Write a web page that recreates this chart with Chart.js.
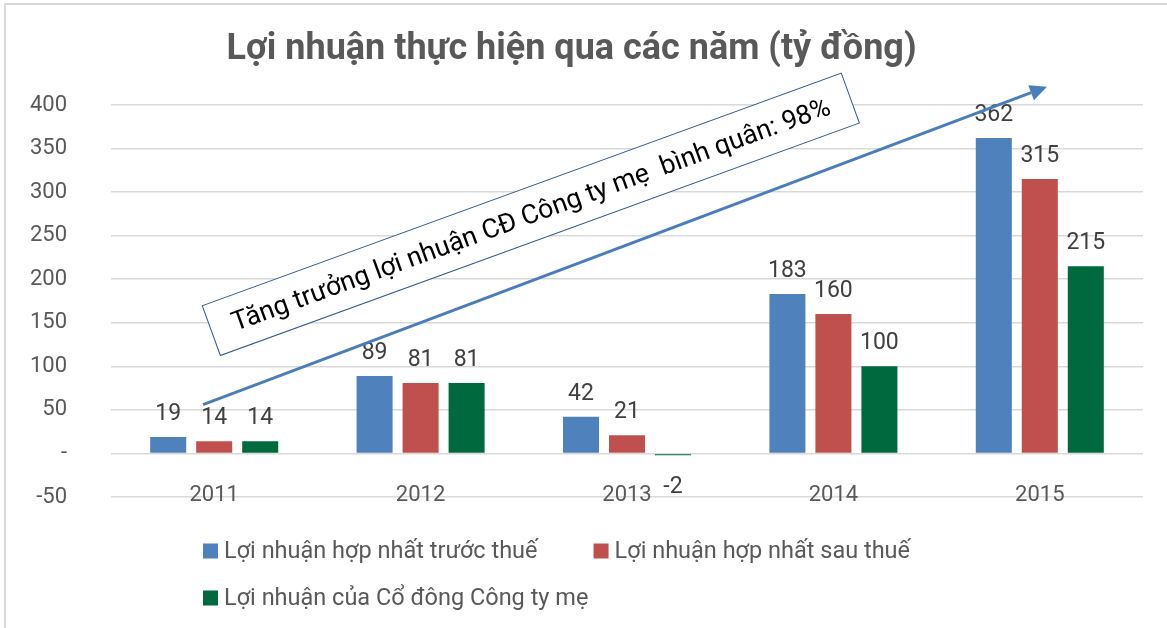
<!DOCTYPE html>
<html>
<head>
<meta charset="utf-8">
<script src="https://cdn.jsdelivr.net/npm/chart.js@4"></script>
<style>
  html, body { margin: 0; padding: 0; background: #ffffff; }
  #wrap { width: 1167px; height: 628px; position: relative; }
</style>
</head>
<body>
<div id="wrap"><canvas id="c" width="1167" height="628"></canvas></div>
<script>
// ---- Data ----
const categories = ['2011', '2012', '2013', '2014', '2015'];
const seriesNames = [
  'Lợi nhuận hợp nhất trước thuế',
  'Lợi nhuận hợp nhất sau thuế',
  'Lợi nhuận của Cổ đông Công ty mẹ'
];
const profitBeforeTax = [19, 89, 42, 183, 362];
const profitAfterTax = [14, 81, 21, 160, 315];
const parentShareholderProfit = [14, 81, -2, 100, 215];
const yMin = -50;
const yMax = 400;
const yStep = 50;
const chartTitle = 'Lợi nhuận thực hiện qua các năm (tỷ đồng)';
const growthNote = 'Tăng trưởng lợi nhuận CĐ Công ty mẹ  bình quân: 98%';

// annotation anchors in data units (category index, value)
const arrowFrom = { x: -0.054, y: 56 };
const arrowTo = { x: 4.035, y: 421 };
const noteCenter = { x: 1.534, y: 274.5 };

const colors = ['#4F81BD', '#C0504D', '#00693E'];
const FONT = 'Roboto, "Liberation Sans", sans-serif';

const frameBorder = {
  id: 'frameBorder',
  beforeDraw(chart) {
    const ctx = chart.ctx;
    ctx.save();
    ctx.fillStyle = '#ffffff';
    ctx.fillRect(0, 0, chart.width, chart.height);
    ctx.strokeStyle = '#d9d9d9';
    ctx.lineWidth = 2;
    ctx.beginPath();
    ctx.moveTo(5, chart.height);
    ctx.lineTo(5, 4);
    ctx.lineTo(chart.width, 4);
    ctx.stroke();
    ctx.restore();
  }
};

const dataLabels = {
  id: 'dataLabels',
  afterDatasetsDraw(chart) {
    const ctx = chart.ctx;
    ctx.save();
    ctx.font = '23px ' + FONT;
    ctx.fillStyle = '#404040';
    ctx.textAlign = 'center';
    ctx.textBaseline = 'alphabetic';
    chart.data.datasets.forEach((ds, di) => {
      const meta = chart.getDatasetMeta(di);
      meta.data.forEach((el, i) => {
        const v = ds.data[i];
        if (v >= 0) {
          ctx.fillText(String(v), el.x, el.y - 17);
        } else {
          ctx.fillText(String(v), el.x, el.y + 38);
        }
      });
    });
    ctx.restore();
  }
};

const customLegend = {
  id: 'customLegend',
  afterDraw(chart) {
    const ctx = chart.ctx;
    const area = chart.chartArea;
    ctx.save();
    ctx.font = '23.5px ' + FONT;
    ctx.textBaseline = 'middle';
    ctx.textAlign = 'left';
    const box = 15;
    const startX = area.left + 92;
    const rows = [area.bottom + 54, area.bottom + 101];
    const layout = [
      { row: 0, x: startX },
      { row: 0, x: null },
      { row: 1, x: startX }
    ];
    let prevEnd = 0;
    chart.data.datasets.forEach((ds, i) => {
      const L = layout[i];
      const x = L.x !== null ? L.x : prevEnd + 56;
      const y = rows[L.row];
      ctx.fillStyle = ds.backgroundColor;
      ctx.fillRect(x, y - box / 2, box, box);
      ctx.fillStyle = '#595959';
      ctx.fillText(ds.label, x + box + 6, y + 1);
      prevEnd = x + box + 6 + ctx.measureText(ds.label).width;
    });
    ctx.restore();
  }
};

const growthAnnotation = {
  id: 'growthAnnotation',
  afterDraw(chart) {
    const ctx = chart.ctx;
    const xs = chart.scales.x, ys = chart.scales.y;
    const x1 = xs.getPixelForValue(arrowFrom.x), y1 = ys.getPixelForValue(arrowFrom.y);
    const x2 = xs.getPixelForValue(arrowTo.x), y2 = ys.getPixelForValue(arrowTo.y);
    const ang = Math.atan2(y2 - y1, x2 - x1);
    ctx.save();
    ctx.strokeStyle = '#4A7EBB';
    ctx.fillStyle = '#4A7EBB';
    ctx.lineWidth = 3;
    const headLen = 17, headW = 8;
    const bx = x2 - headLen * Math.cos(ang), by = y2 - headLen * Math.sin(ang);
    ctx.beginPath();
    ctx.moveTo(x1, y1);
    ctx.lineTo(bx, by);
    ctx.stroke();
    ctx.beginPath();
    ctx.moveTo(x2, y2);
    ctx.lineTo(bx + headW * Math.sin(ang), by - headW * Math.cos(ang));
    ctx.lineTo(bx - headW * Math.sin(ang), by + headW * Math.cos(ang));
    ctx.closePath();
    ctx.fill();

    // rotated note box
    const cx = xs.getPixelForValue(noteCenter.x), cy = ys.getPixelForValue(noteCenter.y);
    const w = 680, h = 53, rot = -20 * Math.PI / 180;
    ctx.translate(cx, cy);
    ctx.rotate(rot);
    ctx.fillStyle = '#ffffff';
    ctx.fillRect(-w / 2, -h / 2, w, h);
    ctx.strokeStyle = '#385D8A';
    ctx.lineWidth = 1;
    ctx.strokeRect(-w / 2, -h / 2, w, h);
    ctx.font = '24px ' + FONT;
    const tw = ctx.measureText(growthNote).width;
    const size = Math.max(16, Math.min(30, 24 * 636 / tw));
    ctx.font = size.toFixed(1) + 'px ' + FONT;
    ctx.fillStyle = '#000000';
    ctx.textAlign = 'center';
    ctx.textBaseline = 'middle';
    ctx.fillText(growthNote, 0, 2);
    ctx.restore();
  }
};

new Chart(document.getElementById('c'), {
  type: 'bar',
  data: {
    labels: categories,
    datasets: [
      { label: seriesNames[0], data: profitBeforeTax, backgroundColor: colors[0] },
      { label: seriesNames[1], data: profitAfterTax, backgroundColor: colors[1] },
      { label: seriesNames[2], data: parentShareholderProfit, backgroundColor: colors[2] }
    ]
  },
  options: {
    responsive: false,
    animation: false,
    events: [],
    layout: { padding: { left: 0, right: 24, top: 0, bottom: 131 } },
    datasets: {
      bar: { categoryPercentage: 0.6686, barPercentage: 0.783, borderWidth: 0 }
    },
    plugins: {
      legend: { display: false },
      tooltip: { enabled: false },
      title: {
        display: true,
        text: chartTitle,
        color: '#595959',
        font: { family: FONT, size: 36, weight: 'bold' },
        padding: { top: 28, bottom: 33.8 }
      }
    },
    scales: {
      x: {
        position: { y: 0 },
        grid: { display: false },
        border: { display: false },
        ticks: { color: '#595959', font: { family: FONT, size: 22 }, padding: 21 }
      },
      y: {
        min: yMin,
        max: yMax,
        afterFit(scale) { scale.width = 111; },
        grid: { color: '#d9d9d9', lineWidth: 1.5, drawTicks: false },
        border: { display: false },
        ticks: {
          stepSize: yStep,
          padding: 44,
          color: '#595959',
          font: { family: FONT, size: 22 },
          callback: (v) => (v === 0 ? '-' : String(v))
        }
      }
    }
  },
  plugins: [frameBorder, dataLabels, growthAnnotation, customLegend]
});
</script>
</body>
</html>
